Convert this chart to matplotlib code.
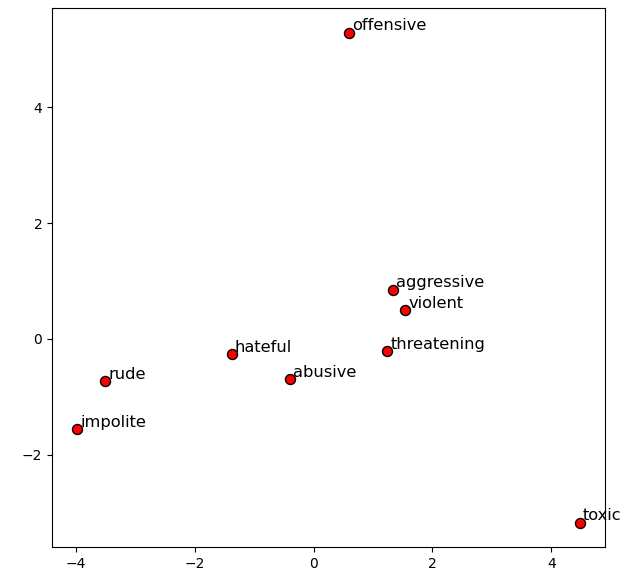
import matplotlib
matplotlib.use("Agg")
import matplotlib.pyplot as plt

words = ["offensive", "aggressive", "violent", "threatening", "hateful",
         "abusive", "rude", "impolite", "toxic"]
xs = [0.60, 1.34, 1.54, 1.24, -1.38, -0.40, -3.51, -3.98, 4.48]
ys = [5.29, 0.85, 0.50, -0.21, -0.26, -0.69, -0.73, -1.56, -3.17]

fig = plt.figure(figsize=(6.27, 5.73), dpi=100)
ax = fig.add_axes([52/627, 1 - 547/573, 553/627, 539/573])
ax.scatter(xs, ys, s=52, c="red", edgecolors="black", linewidths=1, zorder=3)
for w, x, y in zip(words, xs, ys):
    ax.text(x + 0.05, y + 0.04, w, fontsize=11.7, clip_on=False)
ax.set_xticks([-4, -2, 0, 2, 4])
ax.set_yticks([-2, 0, 2, 4])
fig.savefig("out.png", dpi=100)
